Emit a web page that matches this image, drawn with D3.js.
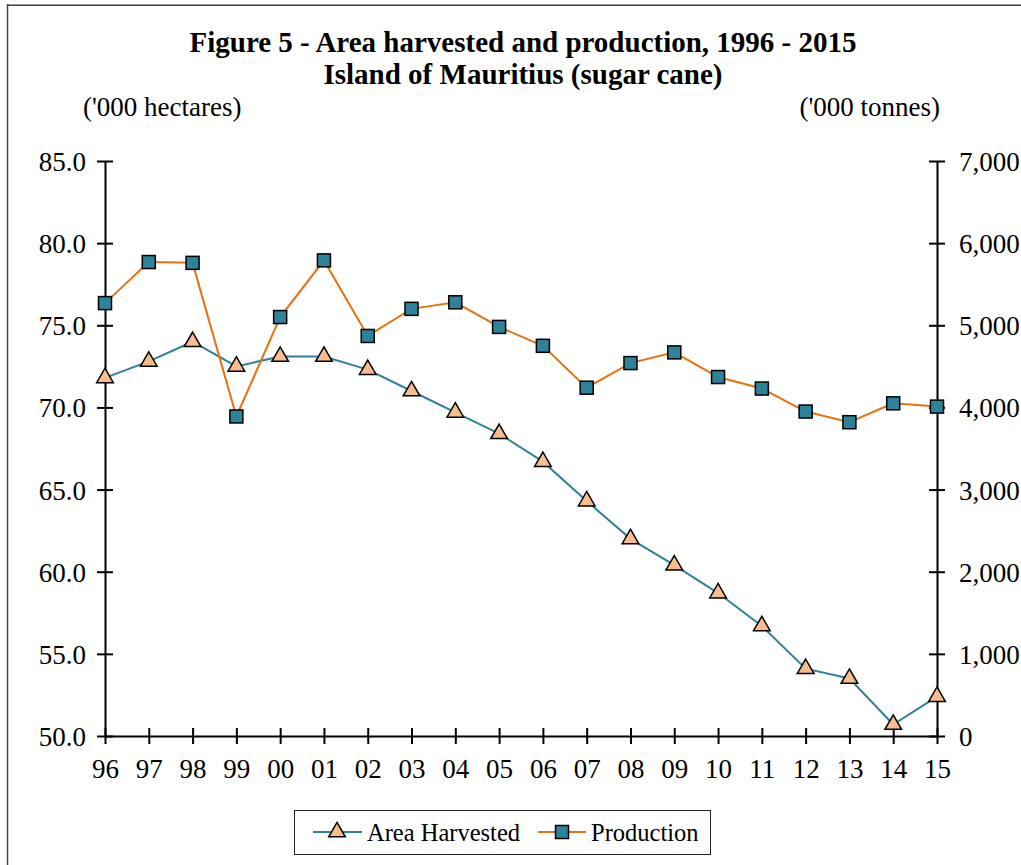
<!DOCTYPE html>
<html>
<head>
<meta charset="utf-8">
<script src="https://cdn.jsdelivr.net/npm/d3@7"></script>
<style>
  body { margin: 0; background: #fff; }
  svg text { font-family: "Liberation Serif", "Times New Roman", serif; fill: #000; }
</style>
</head>
<body>
<div id="chart"></div>
<script>
// data
const years = ["96", "97", "98", "99", "00", "01", "02", "03", "04", "05",
               "06", "07", "08", "09", "10", "11", "12", "13", "14", "15"];
const areaHarvested = [71.8, 72.8, 74.0, 72.5, 73.1, 73.1, 72.3, 71.0, 69.7, 68.4,
                       66.7, 64.3, 62.0, 60.4, 58.7, 56.7, 54.1, 53.5, 50.7, 52.4];
const production = [5270, 5770, 5760, 3890, 5100, 5790, 4870, 5200, 5280, 4980,
                    4750, 4240, 4540, 4670, 4370, 4230, 3950, 3820, 4050, 4010];
const leftTicks = [50, 55, 60, 65, 70, 75, 80, 85];
const rightTicks = [0, 1000, 2000, 3000, 4000, 5000, 6000, 7000];

const W = 1021, H = 865;
const svg = d3.select("#chart").append("svg")
  .attr("width", W)
  .attr("height", H);

// outer frame (top + left edges only visible)
svg.append("line").attr("x1", 7).attr("x2", W).attr("y1", 4.5).attr("y2", 4.5)
  .attr("stroke", "#999").attr("stroke-width", 1);
svg.append("line").attr("x1", 7).attr("x2", W).attr("y1", 5.5).attr("y2", 5.5)
  .attr("stroke", "#444").attr("stroke-width", 1);
svg.append("line").attr("x1", 7.5).attr("x2", 7.5).attr("y1", 4).attr("y2", H)
  .attr("stroke", "#444").attr("stroke-width", 1.5);

const plotLeft = 105, plotRight = 937, plotTop = 161, plotBottom = 736;

const x = d3.scalePoint()
  .domain(years)
  .range([plotLeft, plotRight]);

const yL = d3.scaleLinear().domain([50, 85]).range([plotBottom, plotTop]);
const yR = d3.scaleLinear().domain([0, 7000]).range([plotBottom, plotTop]);

// titles
svg.append("text")
  .attr("x", 523).attr("y", 52)
  .attr("text-anchor", "middle")
  .attr("font-size", "29px").attr("font-weight", "bold")
  .text("Figure 5 - Area harvested and production, 1996 - 2015");
svg.append("text")
  .attr("x", 523).attr("y", 84)
  .attr("text-anchor", "middle")
  .attr("font-size", "29px").attr("font-weight", "bold")
  .text("Island of Mauritius (sugar cane)");

svg.append("text")
  .attr("x", 83).attr("y", 116)
  .attr("font-size", "27px")
  .text("('000 hectares)");
svg.append("text")
  .attr("x", 940).attr("y", 116)
  .attr("text-anchor", "end")
  .attr("font-size", "27px")
  .text("('000 tonnes)");

// axes
function styleAxis(g) {
  g.select(".domain").attr("stroke", "#000").attr("stroke-width", 2);
  g.selectAll(".tick line").attr("stroke", "#000").attr("stroke-width", 2);
  g.selectAll(".tick text").attr("font-size", "27px");
}

const axL = svg.append("g")
  .attr("transform", `translate(${plotLeft},0)`)
  .call(d3.axisLeft(yL).tickValues(leftTicks).tickFormat(d3.format(".1f"))
    .tickSizeOuter(0).tickSizeInner(8));
styleAxis(axL);
axL.selectAll(".tick line").attr("x2", 8).attr("x1", -8);
axL.selectAll(".tick text").attr("x", -19).attr("dy", "0.35em");

const axR = svg.append("g")
  .attr("transform", `translate(${plotRight},0)`)
  .call(d3.axisRight(yR).tickValues(rightTicks).tickFormat(d3.format(","))
    .tickSizeOuter(0).tickSizeInner(8));
styleAxis(axR);
axR.selectAll(".tick line").attr("x1", -8).attr("x2", 8);
axR.selectAll(".tick text").attr("x", 22).attr("dy", "0.35em");

const axB = svg.append("g")
  .attr("transform", `translate(0,${plotBottom})`)
  .call(d3.axisBottom(x).tickSizeOuter(0).tickSizeInner(8));
styleAxis(axB);
axB.selectAll(".tick line").attr("y1", -8).attr("y2", 8);
axB.selectAll(".tick text").attr("y", 42).attr("dy", "0");

// series
const blue = "#2e8299", orange = "#e8710f";
const tealFill = "#2e8299", peach = "#f9bc8c";

const lineArea = d3.line().x((d, i) => x(years[i])).y(d => yL(d));
const lineProd = d3.line().x((d, i) => x(years[i])).y(d => yR(d));

svg.append("path").datum(areaHarvested)
  .attr("d", lineArea).attr("fill", "none")
  .attr("stroke", blue).attr("stroke-width", 2);
svg.append("path").datum(production)
  .attr("d", lineProd).attr("fill", "none")
  .attr("stroke", orange).attr("stroke-width", 2);

const tri = d3.symbol().type(d3.symbolTriangle).size(120);

svg.selectAll(".tri")
  .data(areaHarvested)
  .enter().append("path")
  .attr("class", "tri")
  .attr("d", tri)
  .attr("transform", (d, i) => `translate(${x(years[i])},${yL(d)})`)
  .attr("fill", peach).attr("stroke", "#000").attr("stroke-width", 1.5);

svg.selectAll(".sq")
  .data(production)
  .enter().append("rect")
  .attr("class", "sq")
  .attr("x", (d, i) => x(years[i]) - 6.5)
  .attr("y", d => yR(d) - 6.5)
  .attr("width", 13).attr("height", 13)
  .attr("fill", tealFill).attr("stroke", "#000").attr("stroke-width", 1.5);

// legend
const lg = svg.append("g");
lg.append("rect")
  .attr("x", 294.5).attr("y", 810.5)
  .attr("width", 416).attr("height", 44)
  .attr("fill", "#fff").attr("stroke", "#222").attr("stroke-width", 1);

lg.append("line").attr("x1", 313).attr("x2", 362).attr("y1", 832).attr("y2", 832)
  .attr("stroke", blue).attr("stroke-width", 2);
lg.append("path").attr("d", tri)
  .attr("transform", "translate(337,832)")
  .attr("fill", peach).attr("stroke", "#000").attr("stroke-width", 1.5);
lg.append("text").attr("x", 367).attr("y", 841)
  .attr("font-size", "24.5px").text("Area Harvested");

lg.append("line").attr("x1", 538).attr("x2", 586).attr("y1", 832).attr("y2", 832)
  .attr("stroke", orange).attr("stroke-width", 2);
lg.append("rect").attr("x", 555.5).attr("y", 825.5).attr("width", 13).attr("height", 13)
  .attr("fill", tealFill).attr("stroke", "#000").attr("stroke-width", 1.5);
lg.append("text").attr("x", 591).attr("y", 841)
  .attr("font-size", "24.5px").text("Production");
</script>
</body>
</html>
